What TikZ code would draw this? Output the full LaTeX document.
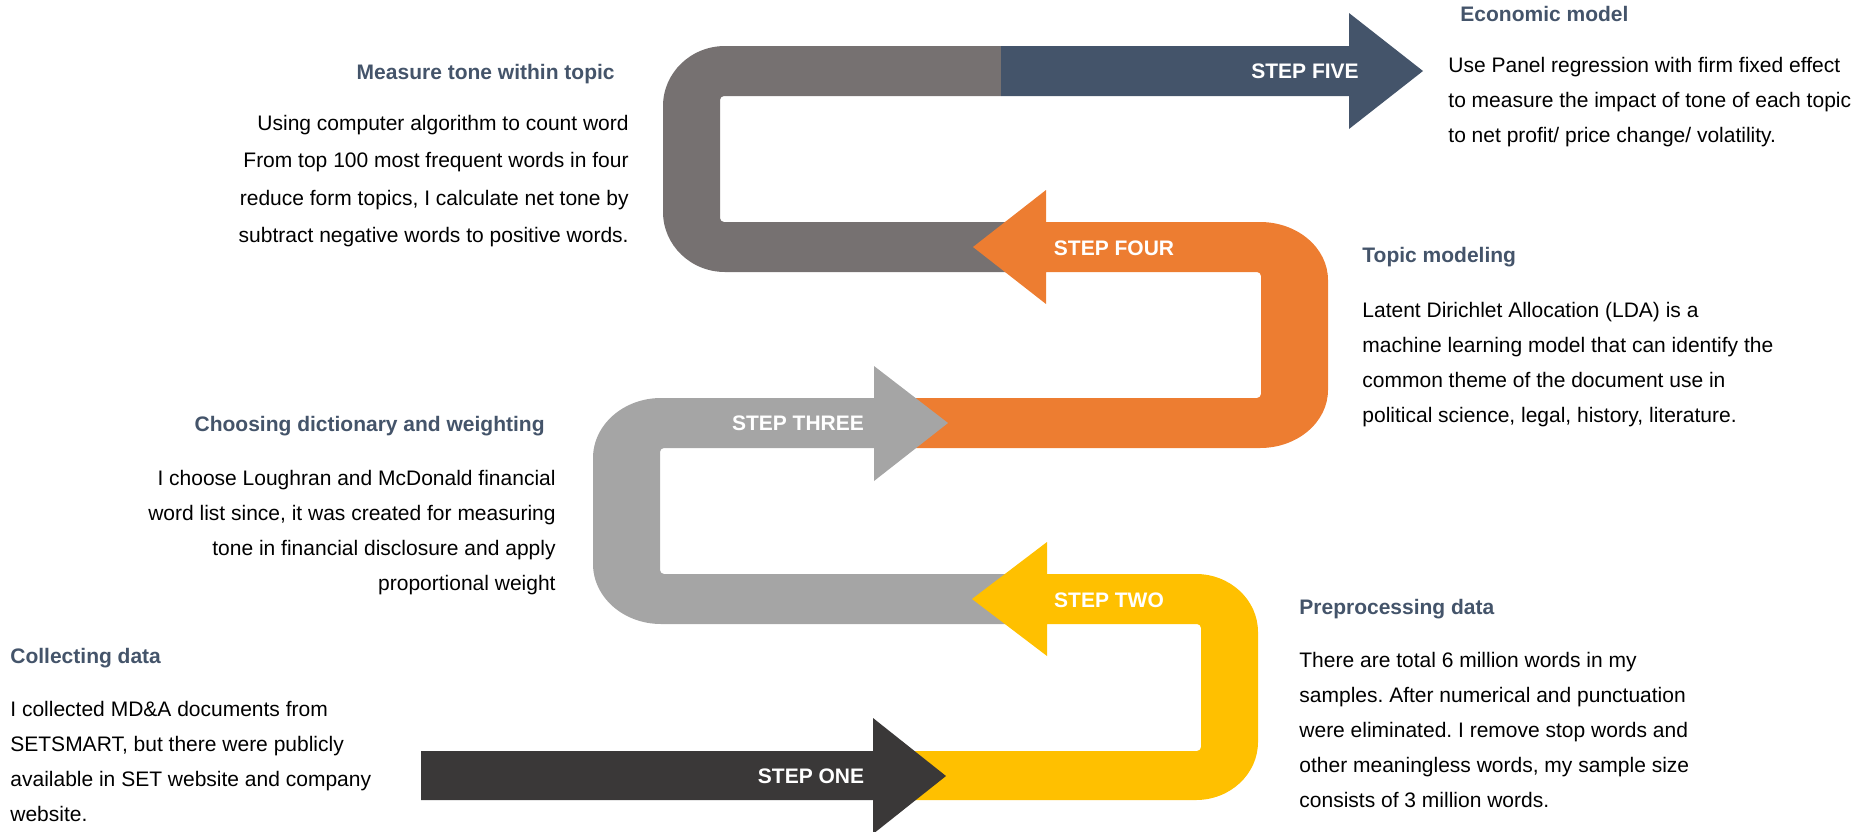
\documentclass[tikz,border=0pt]{standalone}
\usepackage{fontspec}
\setmainfont{Liberation Sans}
\usepackage{xcolor}
\usepackage{tikz}
\usetikzlibrary{positioning}
\frenchspacing

\definecolor{stepdark}{HTML}{3A3838}
\definecolor{stepgold}{HTML}{FFC000}
\definecolor{stepsilver}{HTML}{A5A5A5}
\definecolor{steporange}{HTML}{ED7D31}
\definecolor{stepgrey}{HTML}{767171}
\definecolor{stepblue}{HTML}{44546A}

\begin{document}
\begin{tikzpicture}[
    x=0.5pt, y=-0.5pt,
    band/.style={fill=#1, draw=none},
    steplabel/.style={text=white, font=\fontsize{10.5}{12}\selectfont\bfseries, inner sep=0pt},
    heading/.style={text=stepblue, font=\fontsize{10.5}{12}\selectfont\bfseries, inner sep=0pt},
    body/.style={text=black, font=\fontsize{10.5}{17.5}\selectfont, inner sep=0pt, align=#1},
    body/.default={left},
]
\useasboundingbox (0,0) rectangle (1864,831);
\clip (0,0) rectangle (1864,831);

% ── Step five: grey loop + blue arrow ──
\fill[band=stepgrey] (1001,46) -- (725,46)
    arc[start angle=270, end angle=180, x radius=62, y radius=60]
    -- (663,212)
    arc[start angle=180, end angle=90, x radius=62, y radius=60]
    -- (1046,272) -- (1046,222) -- (724,222)
    arc[start angle=90, end angle=180, radius=4]
    -- (720,100)
    arc[start angle=180, end angle=270, radius=4]
    -- (1001,96) -- cycle;
\fill[band=stepblue] (1001,46) -- (1349,46) -- (1349,13) -- (1423,71)
    -- (1349,129) -- (1349,96) -- (1001,96) -- cycle;

% ── Step four: orange loop ──
\fill[band=steporange] (1046,222) -- (1046,190) -- (973,247) -- (1046,304) -- (1046,272)
    -- (1257,272) arc[start angle=270, end angle=360, radius=4]
    -- (1261,394) arc[start angle=0, end angle=90, radius=4]
    -- (874,398) -- (874,448) -- (1260,448)
    arc[start angle=90, end angle=0, x radius=68, y radius=58]
    -- (1328,280)
    arc[start angle=0, end angle=-90, x radius=68, y radius=58]
    -- cycle;

% ── Step three: silver loop ──
\fill[band=stepsilver] (874,398) -- (874,366) -- (948,423) -- (874,481) -- (874,448)
    -- (664,448) arc[start angle=270, end angle=180, radius=4]
    -- (660,570) arc[start angle=180, end angle=90, radius=4]
    -- (1047,574) -- (1047,624) -- (661,624)
    arc[start angle=90, end angle=180, x radius=68, y radius=60]
    -- (593,458)
    arc[start angle=180, end angle=270, x radius=68, y radius=60]
    -- cycle;

% ── Step two: gold loop ──
\fill[band=stepgold] (1047,574) -- (1047,542) -- (972,599) -- (1047,656) -- (1047,624)
    -- (1197,624) arc[start angle=270, end angle=360, radius=4]
    -- (1201,747) arc[start angle=0, end angle=90, radius=4]
    -- (873,751) -- (873,800) -- (1196,800)
    arc[start angle=90, end angle=0, x radius=62, y radius=58]
    -- (1258,632)
    arc[start angle=0, end angle=-90, x radius=62, y radius=58]
    -- cycle;

% ── Step one: dark arrow ──
\fill[band=stepdark] (421,751) -- (873,751) -- (873,718) -- (946,776)
    -- (873,834) -- (873,800) -- (421,800) -- cycle;

% ── Step labels ──
\node[steplabel] (lbl_one) at (811,776) {STEP ONE};
\node[steplabel] (lbl_two) at (1109,600) {STEP TWO};
\node[steplabel] (lbl_three) at (798,423) {STEP THREE};
\node[steplabel] (lbl_four) at (1114,248) {STEP FOUR};
\node[steplabel] (lbl_five) at (1305,71) {STEP FIVE};

% ── Left texts ──
\node[heading, anchor=base east] (head_tone) at (615,79) {Measure tone within topic};
\node[body=right, below right=18pt and 7pt of head_tone.base east, anchor=north east, font=\fontsize{10.5}{18.6}\selectfont] (text_tone)
    {Using computer algorithm to count word\\From top 100 most frequent words in four\\reduce form topics, I calculate net tone by\\subtract negative words to positive words.};

\node[heading, anchor=base east] (head_dict) at (545,431) {Choosing dictionary and weighting};
\node[body=right, below right=19.5pt and 5.5pt of head_dict.base east, anchor=north east] (text_dict)
    {I choose Loughran and McDonald financial\\word list since, it was created for measuring\\tone in financial disclosure and apply\\proportional weight};

\node[heading, anchor=base west] (head_collect) at (10,663) {Collecting data};
\node[body, below=19pt of head_collect.base west, anchor=north west] (text_collect)
    {I collected MD\&A documents from\\SETSMART, but there were publicly\\available in SET website and company\\website.};

% ── Right texts ──
\node[heading, anchor=base west] (head_econ) at (1460,21) {Economic model};
\node[body, below left=18pt and 6pt of head_econ.base west, anchor=north west] (text_econ)
    {Use Panel regression with firm fixed effect\\to measure the impact of tone of each topic\\to net profit/ price change/ volatility.};

\node[heading, anchor=base west] (head_topic) at (1362,262) {Topic modeling};
\node[body, below=20pt of head_topic.base west, anchor=north west] (text_topic)
    {Latent Dirichlet Allocation (LDA) is a\\machine learning model that can identify the\\common theme of the document use in\\political science, legal, history, literature.};

\node[heading, anchor=base west] (head_prep) at (1299,614) {Preprocessing data};
\node[body, below=19pt of head_prep.base west, anchor=north west] (text_prep)
    {There are total 6 million words in my\\samples. After numerical and punctuation\\were eliminated. I remove stop words and\\other meaningless words, my sample size\\consists of 3 million words.};

\end{tikzpicture}
\end{document}
